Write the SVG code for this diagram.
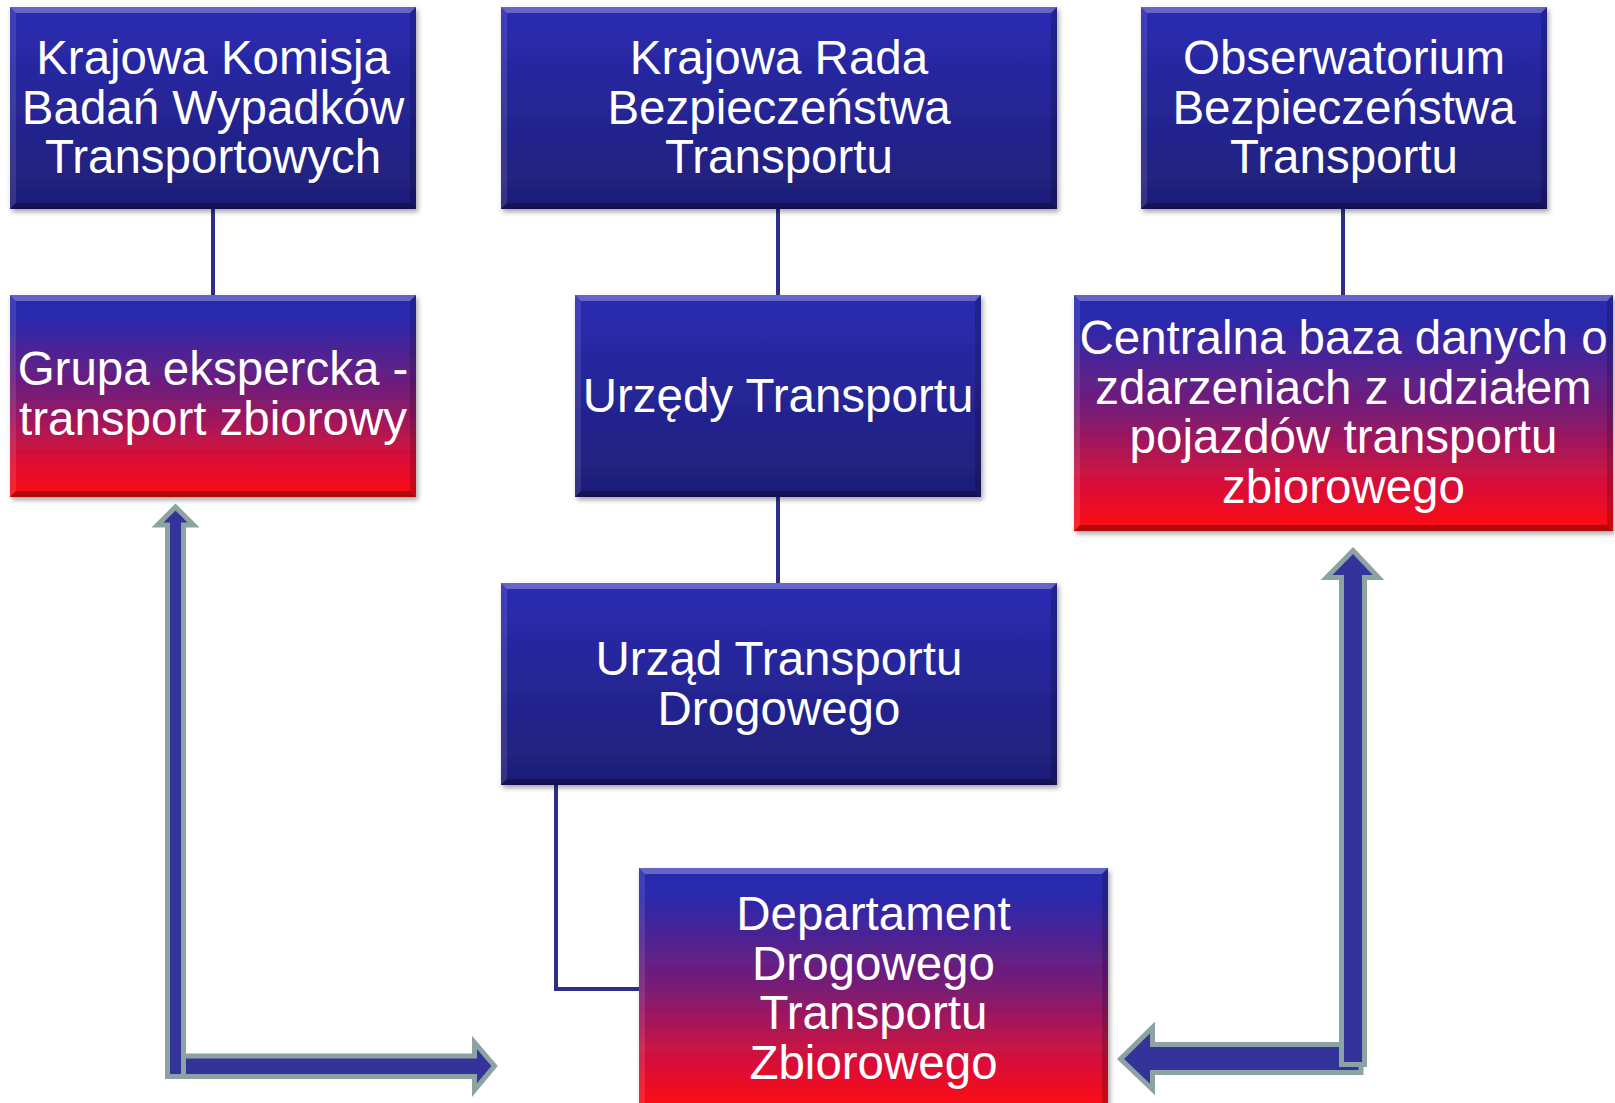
<svg xmlns="http://www.w3.org/2000/svg" width="1615" height="1103" viewBox="0 0 1615 1103">
  <defs>
    <linearGradient id="gBlue" x1="0" y1="0" x2="0" y2="1">
      <stop offset="0" stop-color="#2C2CB4"/>
      <stop offset="1" stop-color="#1E1E76"/>
    </linearGradient>
    <linearGradient id="gRed" x1="0" y1="0" x2="0" y2="1">
      <stop offset="0" stop-color="#2A2AB2"/>
      <stop offset="0.12" stop-color="#2A29AC"/>
      <stop offset="0.5" stop-color="#7B1C74"/>
      <stop offset="0.8" stop-color="#D8103A"/>
      <stop offset="1" stop-color="#FF0A0F"/>
    </linearGradient>
    <filter id="shadow" x="-5%" y="-5%" width="112%" height="115%">
      <feDropShadow dx="2" dy="3" stdDeviation="2.5" flood-color="#000" flood-opacity="0.35"/>
    </filter>
  </defs>
  <style>
    .bx { filter: url(#shadow); }
    .blue { fill: url(#gBlue); }
    .red { fill: url(#gRed); }
    .bt { fill: #ffffff; fill-opacity: 0.28; }
    .bl { fill: #ffffff; fill-opacity: 0.10; }
    .br { fill: #000000; fill-opacity: 0.18; }
    .bb { fill: #000000; fill-opacity: 0.30; }
    .lbl { font-family: "Liberation Sans", Arial, Helvetica, sans-serif; font-size: 47.5px; fill: #ffffff; text-anchor: middle; }
    .conn { stroke: #2D2E8A; stroke-width: 4; fill: none; }
    .fat { fill: #333399; stroke: #8BA3A3; stroke-width: 5; stroke-linejoin: miter; stroke-miterlimit: 10; }
  </style>
  <rect x="0" y="0" width="1615" height="1103" fill="#ffffff"/>

  <g id="connectors">
    <line class="conn" x1="213" y1="209" x2="213" y2="295"/>
    <line class="conn" x1="778" y1="209" x2="778" y2="295"/>
    <line class="conn" x1="1343" y1="209" x2="1343" y2="295"/>
    <line class="conn" x1="778" y1="497" x2="778" y2="583"/>
    <polyline class="conn" points="556,785 556,989 639,989"/>
    <polygon class="fat" points="167.5,1056 474.5,1056 474.5,1042.5 494.5,1066 474.5,1090 474.5,1076.5 167.5,1076.5"/>
    <polygon class="fat" points="175.5,507 193.5,525 183.5,525 183.5,1076.5 167.5,1076.5 167.5,525 157.5,525"/>
    <polygon class="fat" points="1361,1044.5 1152.5,1044.5 1152.5,1027.5 1120.5,1059 1152.5,1089.5 1152.5,1072.5 1361,1072.5"/>
    <polygon class="fat" points="1353,550.5 1378.5,577.5 1364.5,577.5 1364.5,1064.5 1341.5,1064.5 1341.5,577.5 1326.5,577.5"/>
  </g>

  <g id="node-kkbwt">
    <rect class="bx blue" x="10" y="7" width="406" height="202"/>
    <polygon class="bt" points="10,7 416,7 410,13 16,13"/>
    <polygon class="bl" points="10,7 16,13 16,203 10,209"/>
    <polygon class="br" points="416,7 416,209 410,203 410,13"/>
    <polygon class="bb" points="10,209 16,203 410,203 416,209"/>
    <text class="lbl" x="213" y="74">Krajowa Komisja</text>
    <text class="lbl" x="213" y="123.5">Badań Wypadków</text>
    <text class="lbl" x="213" y="173">Transportowych</text>
  </g>

  <g id="node-krbt">
    <rect class="bx blue" x="501" y="7" width="556" height="202"/>
    <polygon class="bt" points="501,7 1057,7 1051,13 507,13"/>
    <polygon class="bl" points="501,7 507,13 507,203 501,209"/>
    <polygon class="br" points="1057,7 1057,209 1051,203 1051,13"/>
    <polygon class="bb" points="501,209 507,203 1051,203 1057,209"/>
    <text class="lbl" x="779" y="74">Krajowa Rada</text>
    <text class="lbl" x="779" y="123.5">Bezpieczeństwa</text>
    <text class="lbl" x="779" y="173">Transportu</text>
  </g>

  <g id="node-obt">
    <rect class="bx blue" x="1141" y="7" width="406" height="202"/>
    <polygon class="bt" points="1141,7 1547,7 1541,13 1147,13"/>
    <polygon class="bl" points="1141,7 1147,13 1147,203 1141,209"/>
    <polygon class="br" points="1547,7 1547,209 1541,203 1541,13"/>
    <polygon class="bb" points="1141,209 1147,203 1541,203 1547,209"/>
    <text class="lbl" x="1344" y="74">Obserwatorium</text>
    <text class="lbl" x="1344" y="123.5">Bezpieczeństwa</text>
    <text class="lbl" x="1344" y="173">Transportu</text>
  </g>

  <g id="node-grupa">
    <rect class="bx red" x="10" y="295" width="406" height="202"/>
    <polygon class="bt" points="10,295 416,295 410,301 16,301"/>
    <polygon class="bl" points="10,295 16,301 16,491 10,497"/>
    <polygon class="br" points="416,295 416,497 410,491 410,301"/>
    <polygon class="bb" points="10,497 16,491 410,491 416,497"/>
    <text class="lbl" x="213" y="385">Grupa ekspercka -</text>
    <text class="lbl" x="213" y="434.5">transport zbiorowy</text>
  </g>

  <g id="node-urzedy">
    <rect class="bx blue" x="575" y="295" width="406" height="202"/>
    <polygon class="bt" points="575,295 981,295 975,301 581,301"/>
    <polygon class="bl" points="575,295 581,301 581,491 575,497"/>
    <polygon class="br" points="981,295 981,497 975,491 975,301"/>
    <polygon class="bb" points="575,497 581,491 975,491 981,497"/>
    <text class="lbl" x="778" y="411.5">Urzędy Transportu</text>
  </g>

  <g id="node-baza">
    <rect class="bx red" x="1074" y="295" width="539" height="236"/>
    <polygon class="bt" points="1074,295 1613,295 1607,301 1080,301"/>
    <polygon class="bl" points="1074,295 1080,301 1080,525 1074,531"/>
    <polygon class="br" points="1613,295 1613,531 1607,525 1607,301"/>
    <polygon class="bb" points="1074,531 1080,525 1607,525 1613,531"/>
    <text class="lbl" x="1343.5" y="354">Centralna baza danych o</text>
    <text class="lbl" x="1343.5" y="403.5">zdarzeniach z udziałem</text>
    <text class="lbl" x="1343.5" y="453">pojazdów transportu</text>
    <text class="lbl" x="1343.5" y="502.5">zbiorowego</text>
  </g>

  <g id="node-utd">
    <rect class="bx blue" x="501" y="583" width="556" height="202"/>
    <polygon class="bt" points="501,583 1057,583 1051,589 507,589"/>
    <polygon class="bl" points="501,583 507,589 507,779 501,785"/>
    <polygon class="br" points="1057,583 1057,785 1051,779 1051,589"/>
    <polygon class="bb" points="501,785 507,779 1051,779 1057,785"/>
    <text class="lbl" x="779" y="675">Urząd Transportu</text>
    <text class="lbl" x="779" y="724.5">Drogowego</text>
  </g>

  <g id="node-departament">
    <rect class="bx red" x="639" y="868" width="469" height="242"/>
    <polygon class="bt" points="639,868 1108,868 1102,874 645,874"/>
    <polygon class="bl" points="639,868 645,874 645,1104 639,1110"/>
    <polygon class="br" points="1108,868 1108,1110 1102,1104 1102,874"/>
    <text class="lbl" x="873.5" y="930">Departament</text>
    <text class="lbl" x="873.5" y="979.5">Drogowego</text>
    <text class="lbl" x="873.5" y="1029">Transportu</text>
    <text class="lbl" x="873.5" y="1078.5">Zbiorowego</text>
  </g>
</svg>
